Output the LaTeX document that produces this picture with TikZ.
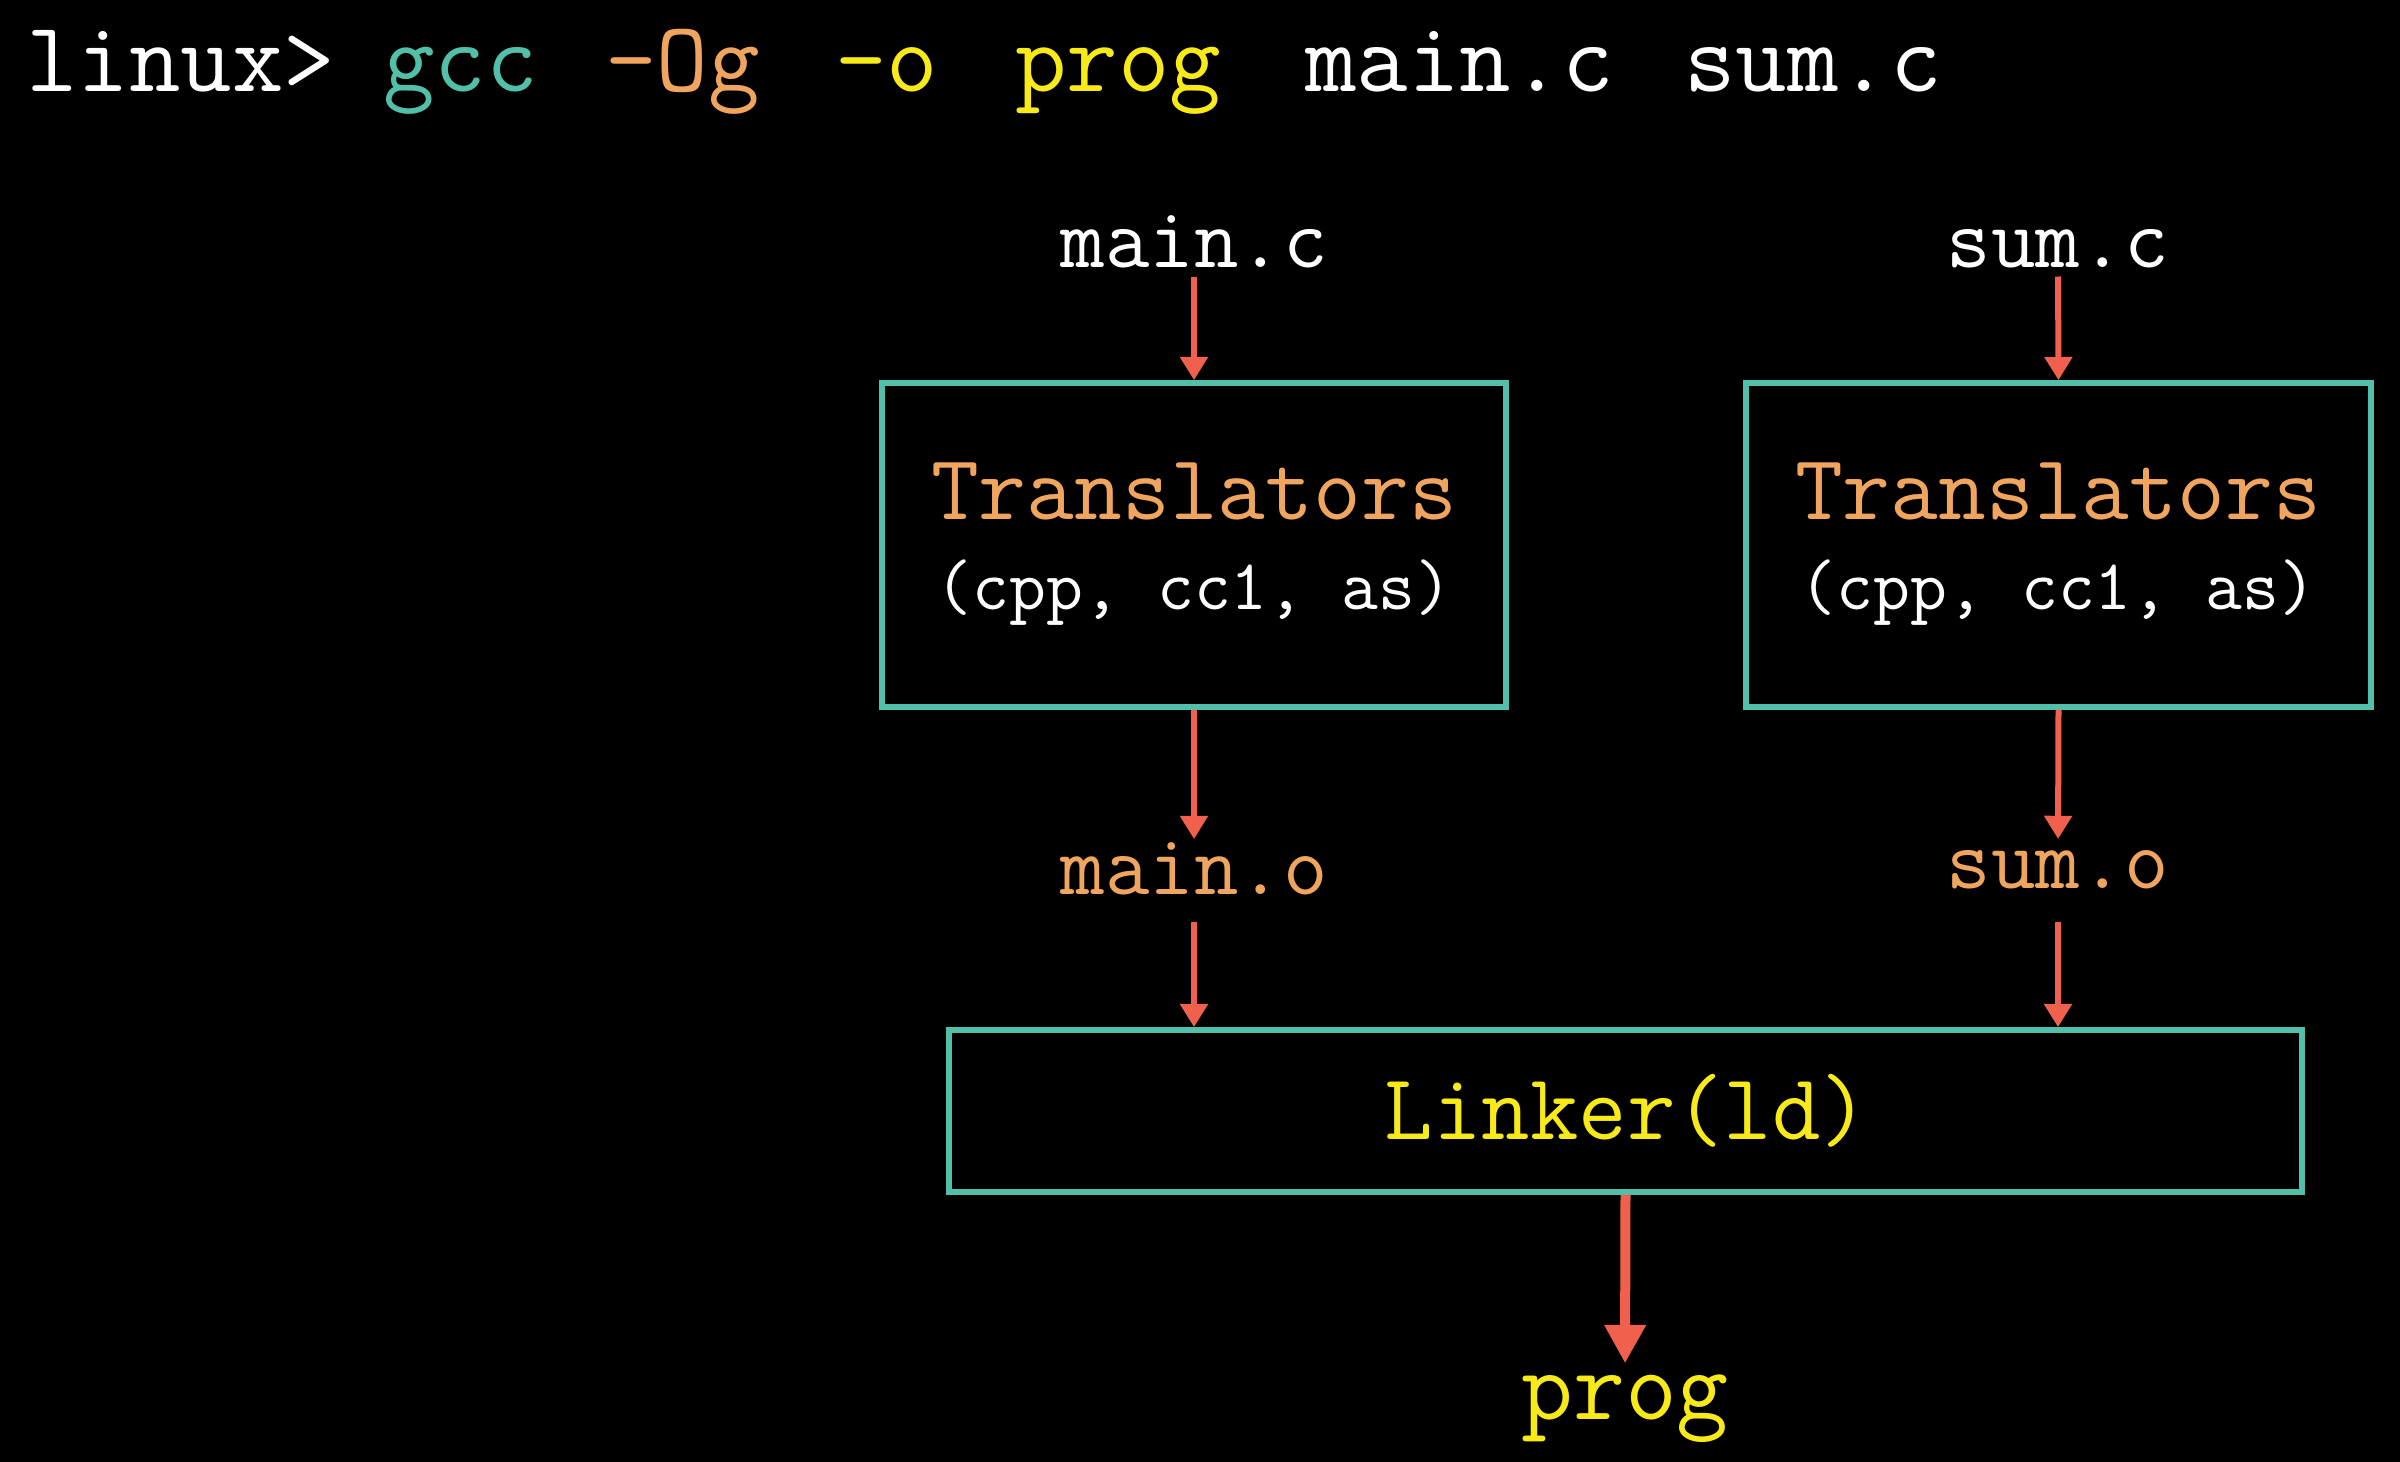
\documentclass[tikz,border=0pt]{standalone}
\usepackage{fontspec}
\usetikzlibrary{arrows.meta}
\definecolor{cteal}{RGB}{82,192,168}
\definecolor{corange}{RGB}{240,165,95}
\definecolor{cyellow}{RGB}{248,234,24}
\definecolor{cred}{RGB}{240,96,76}
\begin{document}
\begin{tikzpicture}[x=0.25pt,y=-0.25pt,
  txt/.style={inner sep=0pt, outer sep=0pt, anchor=base},
  head/.style={txt, anchor=base west, font=\ttfamily\fontsize{25}{30}\selectfont},
  fname/.style={txt, font=\ttfamily\fontsize{21.6}{26}\selectfont},
  ttl/.style={txt, text=corange, font=\ttfamily\fontsize{23.2}{28}\selectfont},
  sub/.style={txt, text=white, font=\ttfamily\fontsize{17.9}{22}\selectfont},
  stage/.style={draw=cteal, line width=1.4pt, inner sep=0pt},
  flow/.style={draw=cred, line width=1.5pt, -{Triangle[length=5.8pt,width=6.7pt]}},
  bigflow/.style={draw=cred, line width=2.5pt, -{Triangle[length=9.6pt,width=9.8pt]}}]
\fill[black] (0,0) rectangle (2400,1462);
\useasboundingbox (0,0) rectangle (2400,1462);

% command line
\node[head, text=white]   (pr)  at (26,92)   {linux>};
\node[head, text=cteal]   (gcc) at (383,92)  {gcc};
\node[head, text=corange] (og)  at (605,92)  {-Og};
\node[head, text=cyellow] (oo)  at (835,92)  {-o};
\node[head, text=cyellow] (pg)  at (1015,92) {prog};
\node[head, text=white]   (hm)  at (1305,92) {main.c};
\node[head, text=white]   (hs)  at (1684,92) {sum.c};

% sources
\node[fname, text=white] (mainc) at (1194,268) {main.c};
\node[fname, text=white] (sumc)  at (2058,268) {sum.c};

% translator boxes
\node[stage, minimum width=156pt, minimum height=81pt] (box1) at (1194,545) {};
\node[stage, minimum width=156.25pt, minimum height=81pt] (box2) at (2058.5,545) {};
\node[ttl] (t1) at (1194,520) {Translators};
\node[sub] (c1) at (1194,610) {(cpp, cc1, as)};
\node[ttl] (t2) at (2058,520) {Translators};
\node[sub] (c2) at (2058,610) {(cpp, cc1, as)};

% objects
\node[fname, text=corange] (maino) at (1194,895) {main.o};
\node[fname, text=corange] (sumo)  at (2058,889) {sum.o};

% linker
\node[stage, minimum width=338.25pt, minimum height=40.5pt] (linker) at (1625.5,1111) {};
\node[txt, text=cyellow, font=\ttfamily\fontsize{23.5}{28}\selectfont] (ld) at (1627,1140) {Linker(ld)};

% output
\node[txt, text=cyellow, font=\ttfamily\fontsize{25.2}{30}\selectfont] (prog) at (1625,1420) {prog};

% connectors
\draw[flow, shorten <=2pt] (mainc.south) -- (box1.north);
\draw[flow, shorten <=2pt] (sumc.south) -- (box2.north);
\draw[flow, shorten >=1pt] (box1.south) -- (maino.north);
\draw[flow, shorten >=3pt] (box2.south) -- (sumo.north);
\draw[flow, shorten <=6.5pt] (maino.south) -- (maino.south |- linker.north);
\draw[flow, shorten <=8pt] (sumo.south) -- (sumo.south |- linker.north);
\draw[bigflow, shorten >=3pt] (linker.south) -- (prog.north);
\end{tikzpicture}
\end{document}
